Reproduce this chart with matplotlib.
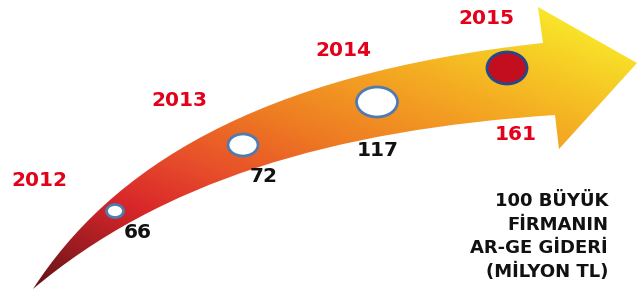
import numpy as np
import matplotlib.pyplot as plt
from matplotlib.path import Path
from matplotlib.patches import PathPatch, Ellipse
from matplotlib.colors import LinearSegmentedColormap

# data
years = ["2012", "2013", "2014", "2015"]
values = [66, 72, 117, 161]
title_lines = ["100 BÜYÜK", "FİRMANIN", "AR-GE GİDERİ", "(MİLYON TL)"]

# layout (pixel space, y down)
circle_xy = [(115, 211), (243, 145), (377, 102), (507, 68)]
circle_wh = [(17, 13), (30, 22), (41, 30), (40, 32)]
year_xy = [(39, 180), (179, 101), (343, 51), (486, 18)]
value_xy = [(138, 233), (264, 177), (378, 150), (516, 135)]
value_colors = ["#111111", "#111111", "#111111", "#e2001a"]
RED = "#e2001a"

fig = plt.figure(figsize=(6.37, 2.90), dpi=100)
ax = fig.add_axes([0, 0, 1, 1])
ax.set_xlim(0, 637)
ax.set_ylim(290, 0)
ax.axis("off")

# arrow outline
verts = [
    (33, 289), (110, 170), (255, 74), (543, 43),   # upper edge
    (538, 7), (637, 63), (559, 149), (555, 115),   # head
    (330, 130), (160, 182), (33, 289),             # lower edge
]
codes = [Path.MOVETO, Path.CURVE4, Path.CURVE4, Path.CURVE4,
         Path.LINETO, Path.LINETO, Path.LINETO, Path.LINETO,
         Path.CURVE4, Path.CURVE4, Path.CURVE4]
arrow = PathPatch(Path(verts, codes), facecolor="none", edgecolor="none")
ax.add_patch(arrow)

# diagonal gradient fill
cmap = LinearSegmentedColormap.from_list("arrow", [
    (0.00, "#5e1216"), (0.12, "#9c1c22"), (0.25, "#d8262a"),
    (0.40, "#e8502a"), (0.55, "#ee7a22"), (0.72, "#f3a222"),
    (0.86, "#f6c424"), (1.00, "#f9e62a")])
xx, yy = np.meshgrid(np.arange(637) + 0.5, np.arange(290) + 0.5)
t = 0.000818 * (xx - 33) + 0.002076 * (289 - yy)
img = ax.imshow(np.clip(t, 0, 1), cmap=cmap, vmin=0, vmax=1,
                extent=(0, 637, 290, 0), interpolation="bilinear", zorder=1)
img.set_clip_path(arrow)

# circles
for i, ((cx, cy), (w, h)) in enumerate(zip(circle_xy, circle_wh)):
    last = i == len(years) - 1
    ax.add_patch(Ellipse((cx, cy), w, h,
                         facecolor="#c20e1f" if last else "white",
                         edgecolor="#1f4a8c" if last else "#4f7bb0",
                         linewidth=2.0, zorder=3))

# year labels and values
for yr, (x, y) in zip(years, year_xy):
    ax.text(x, y, yr, color=RED, fontsize=14.5, fontweight="bold",
            ha="center", va="center", zorder=4)
for v, (x, y), c in zip(values, value_xy, value_colors):
    ax.text(x, y, str(v), color=c, fontsize=14.5, fontweight="bold",
            ha="center", va="center", zorder=4)

# caption
for i, line in enumerate(title_lines):
    ax.text(608, 201 + i * 23.5, line, color="#111111", fontsize=13,
            fontweight="heavy", ha="right", va="center", zorder=4)

fig.savefig("out.png", dpi=100)
